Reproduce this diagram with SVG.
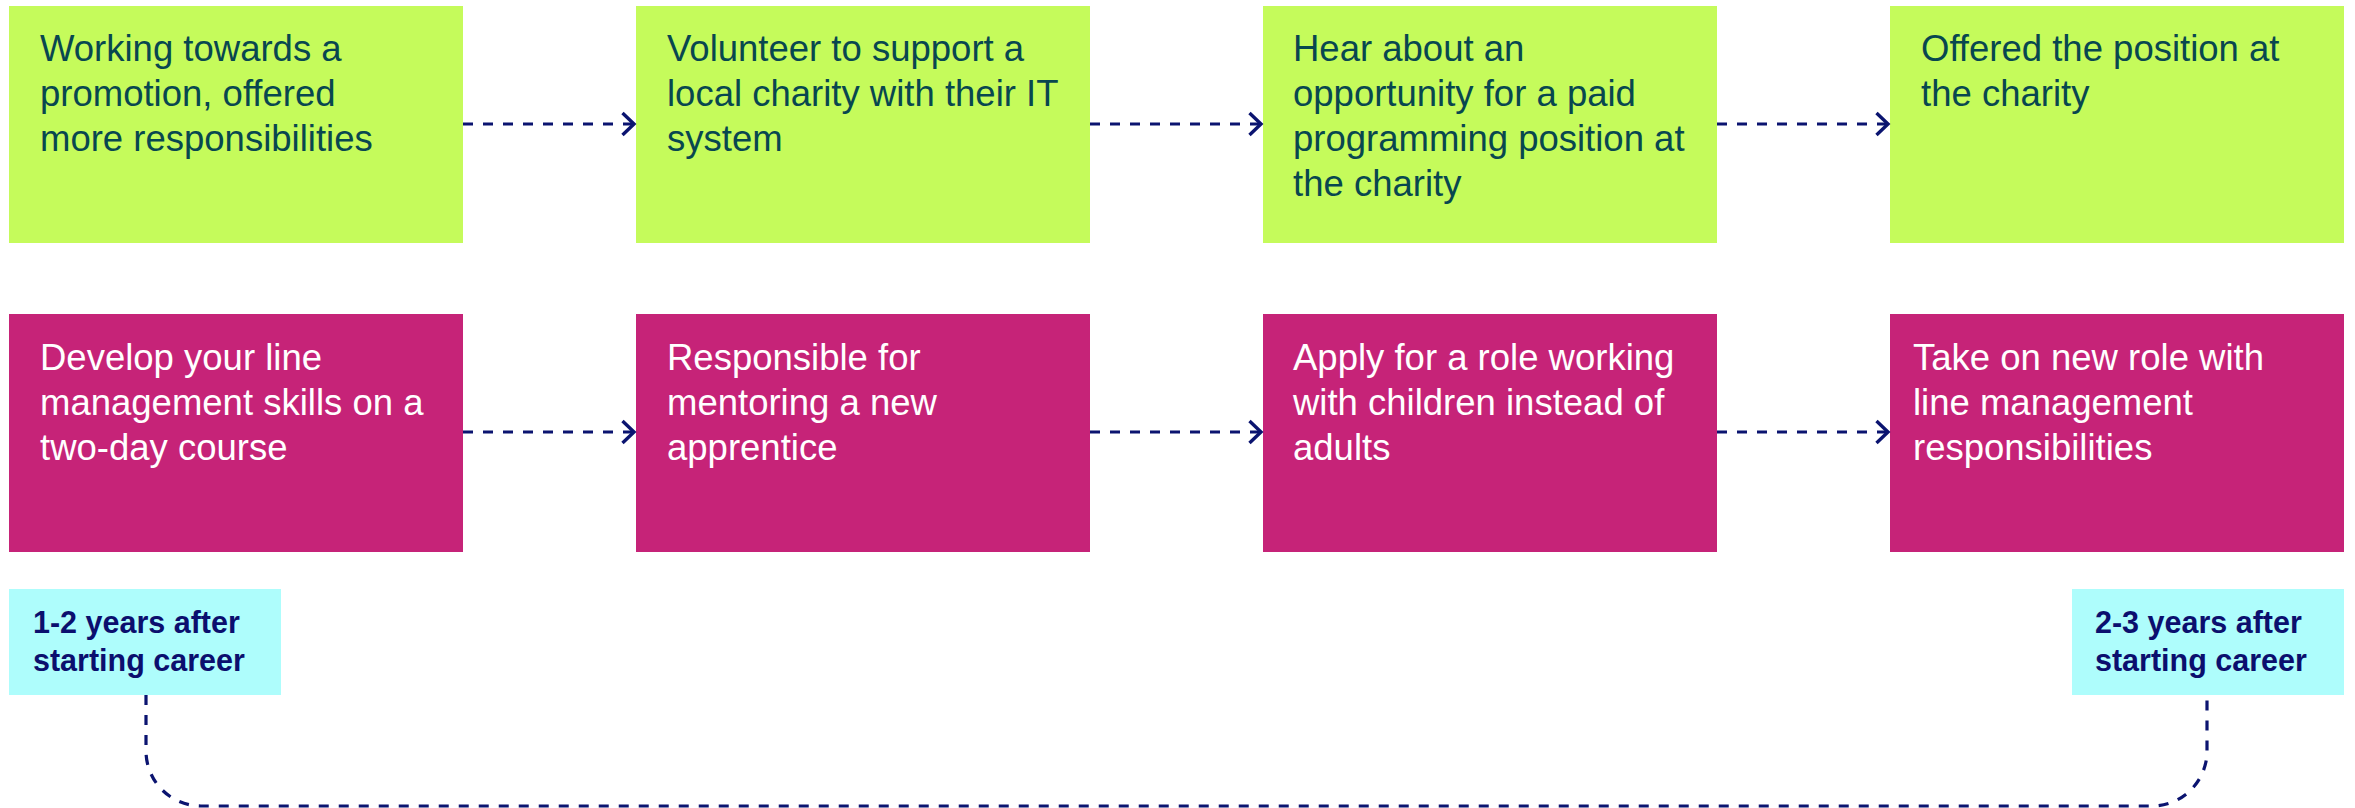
<svg xmlns="http://www.w3.org/2000/svg" width="2355" height="808" viewBox="0 0 2355 808">
<style>
.g{fill:#c5fb5b}
.m{fill:#c62378}
.c{fill:#aefdfc}
.t{font-family:"Liberation Sans",Arial,sans-serif;font-size:36.5px}
.tg{fill:#08474f}
.tm{fill:#ffffff}
.tc{font-family:"Liberation Sans",Arial,sans-serif;font-size:30.5px;font-weight:bold;fill:#0b0f6e}
.ln{fill:none;stroke:#0b1470;stroke-width:3.2;stroke-dasharray:10 10}
</style>
<defs>
<marker id="ah" markerUnits="userSpaceOnUse" markerWidth="16" markerHeight="28" viewBox="0 0 16 28" refX="13" refY="14" orient="auto">
<path d="M1.5,3 L13,14 L1.5,25" fill="none" stroke="#0b1470" stroke-width="3.4"/>
</marker>
</defs>
<rect width="2355" height="808" fill="#ffffff"/>

<g id="g1"><rect class="g" x="9" y="6" width="454" height="237"/>
<text class="t tg" x="40" y="61"><tspan x="40">Working towards a</tspan><tspan x="40" dy="45">promotion, offered</tspan><tspan x="40" dy="45">more responsibilities</tspan></text></g>
<g id="g2"><rect class="g" x="636" y="6" width="454" height="237"/>
<text class="t tg" x="667" y="61"><tspan x="667">Volunteer to support a</tspan><tspan x="667" dy="45">local charity with their IT</tspan><tspan x="667" dy="45">system</tspan></text></g>
<g id="g3"><rect class="g" x="1263" y="6" width="454" height="237"/>
<text class="t tg" x="1293" y="61"><tspan x="1293">Hear about an</tspan><tspan x="1293" dy="45">opportunity for a paid</tspan><tspan x="1293" dy="45">programming position at</tspan><tspan x="1293" dy="45">the charity</tspan></text></g>
<g id="g4"><rect class="g" x="1890" y="6" width="454" height="237"/>
<text class="t tg" x="1921" y="61"><tspan x="1921">Offered the position at</tspan><tspan x="1921" dy="45">the charity</tspan></text></g>

<g id="m1"><rect class="m" x="9" y="314" width="454" height="238"/>
<text class="t tm" x="40" y="370"><tspan x="40">Develop your line</tspan><tspan x="40" dy="45">management skills on a</tspan><tspan x="40" dy="45">two-day course</tspan></text></g>
<g id="m2"><rect class="m" x="636" y="314" width="454" height="238"/>
<text class="t tm" x="667" y="370"><tspan x="667">Responsible for</tspan><tspan x="667" dy="45">mentoring a new</tspan><tspan x="667" dy="45">apprentice</tspan></text></g>
<g id="m3"><rect class="m" x="1263" y="314" width="454" height="238"/>
<text class="t tm" x="1293" y="370"><tspan x="1293">Apply for a role working</tspan><tspan x="1293" dy="45">with children instead of</tspan><tspan x="1293" dy="45">adults</tspan></text></g>
<g id="m4"><rect class="m" x="1890" y="314" width="454" height="238"/>
<text class="t tm" x="1913" y="370"><tspan x="1913">Take on new role with</tspan><tspan x="1913" dy="45">line management</tspan><tspan x="1913" dy="45">responsibilities</tspan></text></g>

<g id="c1"><rect class="c" x="9" y="589" width="272" height="106"/>
<text class="tc" x="33" y="633"><tspan x="33">1-2 years after</tspan><tspan x="33" dy="38">starting career</tspan></text></g>
<g id="c2"><rect class="c" x="2072" y="589" width="272" height="106"/>
<text class="tc" x="2095" y="633"><tspan x="2095">2-3 years after</tspan><tspan x="2095" dy="38">starting career</tspan></text></g>

<g id="connectors">
<path class="ln" d="M463,124 H634" marker-end="url(#ah)"/>
<path class="ln" d="M1090,124 H1261" marker-end="url(#ah)"/>
<path class="ln" d="M1717,124 H1888" marker-end="url(#ah)"/>
<path class="ln" d="M463,432 H634" marker-end="url(#ah)"/>
<path class="ln" d="M1090,432 H1261" marker-end="url(#ah)"/>
<path class="ln" d="M1717,432 H1888" marker-end="url(#ah)"/>
<path class="ln" d="M146,695 V751 A55,55 0 0 0 201,806 H2152 A55,55 0 0 0 2207,751 V695"/>
</g>
</svg>
